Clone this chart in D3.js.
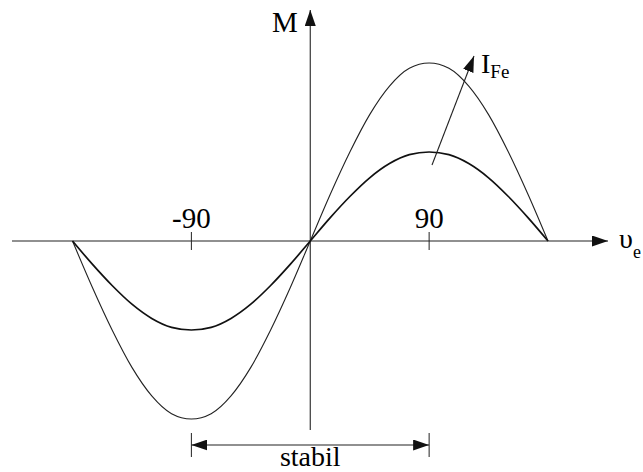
<!DOCTYPE html>
<head>
    <meta charset="UTF-8">
    <script src="https://d3js.org/d3.v7.min.js"></script>
    <style>
        body { margin: 0; background: white; }
    </style>
</head>
<body>
    <div id="viz"></div>
    <script>
        // angle of the load (degrees) and torque values
        const angles = [-180, -165, -150, -135, -120, -105, -90, -75, -60, -45, -30, -15, 0,
                        15, 30, 45, 60, 75, 90, 105, 120, 135, 150, 165, 180];
        const torqueLow = [0, -0.26, -0.5, -0.71, -0.87, -0.97, -1.0, -0.97, -0.87, -0.71, -0.5, -0.26, 0,
                           0.26, 0.5, 0.71, 0.87, 0.97, 1.0, 0.97, 0.87, 0.71, 0.5, 0.26, 0];
        const torqueHigh = [0, -0.52, -1.0, -1.42, -1.74, -1.94, -2.0, -1.94, -1.74, -1.42, -1.0, -0.52, 0,
                            0.52, 1.0, 1.42, 1.74, 1.94, 2.0, 1.94, 1.74, 1.42, 1.0, 0.52, 0];
        const tickAngles = [-90, 90];
        const stableRange = [-90, 90];

        const width = 643, height = 472;
        const serif = "'Liberation Serif', 'Times New Roman', Times, 'DejaVu Serif', serif";

        const x = d3.scaleLinear().domain([-180, 180]).range([72.5, 548]);
        const y = d3.scaleLinear().domain([-2, 2]).range([419, 63]);

        const svg = d3.select('#viz').append('svg')
            .attr('width', width)
            .attr('height', height)
            .attr('font-family', serif)
            .style('font-family', serif);

        const defs = svg.append('defs');
        defs.append('marker')
            .attr('id', 'head')
            .attr('viewBox', '0 0 16 11')
            .attr('refX', 16).attr('refY', 5.5)
            .attr('markerWidth', 16).attr('markerHeight', 11)
            .attr('markerUnits', 'userSpaceOnUse')
            .attr('orient', 'auto-start-reverse')
            .append('path')
            .attr('d', 'M0,0 L16,5.5 L0,11 Z')
            .attr('fill', '#111');

        const x0 = x(0), y0 = y(0);

        // axes
        svg.append('line')
            .attr('x1', 12).attr('y1', y0)
            .attr('x2', 608).attr('y2', y0)
            .attr('stroke', '#222').attr('stroke-width', 1.1)
            .attr('marker-end', 'url(#head)');
        svg.append('line')
            .attr('x1', x0).attr('y1', 430)
            .attr('x2', x0).attr('y2', 10)
            .attr('stroke', '#222').attr('stroke-width', 1.1)
            .attr('marker-end', 'url(#head)');

        // ticks on the angle axis
        svg.selectAll('.tick').data(tickAngles).enter().append('line')
            .attr('x1', d => x(d)).attr('x2', d => x(d))
            .attr('y1', y0 - 9).attr('y2', y0 + 9)
            .attr('stroke', '#222').attr('stroke-width', 1);
        svg.selectAll('.ticklabel').data(tickAngles).enter().append('text')
            .attr('x', d => x(d)).attr('y', y0 - 13)
            .attr('text-anchor', 'middle')
            .attr('font-size', 29)
            .text(d => d);

        // curves
        const line = vals => d3.line()
            .x((d, i) => x(angles[i]))
            .y(d => y(d))
            .curve(d3.curveMonotoneX)(vals);

        svg.append('path')
            .attr('d', line(torqueHigh))
            .attr('fill', 'none').attr('stroke', '#222').attr('stroke-width', 1.1);
        svg.append('path')
            .attr('d', line(torqueLow))
            .attr('fill', 'none').attr('stroke', '#111').attr('stroke-width', 1.7);

        // I_Fe arrow
        svg.append('line')
            .attr('x1', 432).attr('y1', 165)
            .attr('x2', 474).attr('y2', 56)
            .attr('stroke', '#222').attr('stroke-width', 1.1)
            .attr('marker-end', 'url(#head)');
        const ife = svg.append('text').attr('x', 481).attr('y', 73).attr('font-size', 28);
        ife.append('tspan').text('I');
        ife.append('tspan').attr('dy', 5).attr('font-size', 19).text('Fe');

        // axis labels
        svg.append('text').attr('x', 272).attr('y', 32).attr('font-size', 29).text('M');
        const ue = svg.append('text').attr('x', 619).attr('y', 248).attr('font-size', 28);
        ue.append('tspan').text('υ');
        ue.append('tspan').attr('dy', 10).attr('font-size', 18).text('e');

        // stable range
        const ys = 445;
        svg.selectAll('.stabEnd').data(stableRange).enter().append('line')
            .attr('x1', d => x(d)).attr('x2', d => x(d))
            .attr('y1', ys - 12).attr('y2', ys + 12)
            .attr('stroke', '#222').attr('stroke-width', 1);
        svg.append('line')
            .attr('x1', x(stableRange[0])).attr('y1', ys)
            .attr('x2', x(stableRange[1])).attr('y2', ys)
            .attr('stroke', '#222').attr('stroke-width', 1.1)
            .attr('marker-start', 'url(#head)')
            .attr('marker-end', 'url(#head)');
        svg.append('text')
            .attr('x', (x(stableRange[0]) + x(stableRange[1])) / 2)
            .attr('y', 466)
            .attr('text-anchor', 'middle')
            .attr('font-size', 28)
            .text('stabil');
    </script>
</body>
</html>
